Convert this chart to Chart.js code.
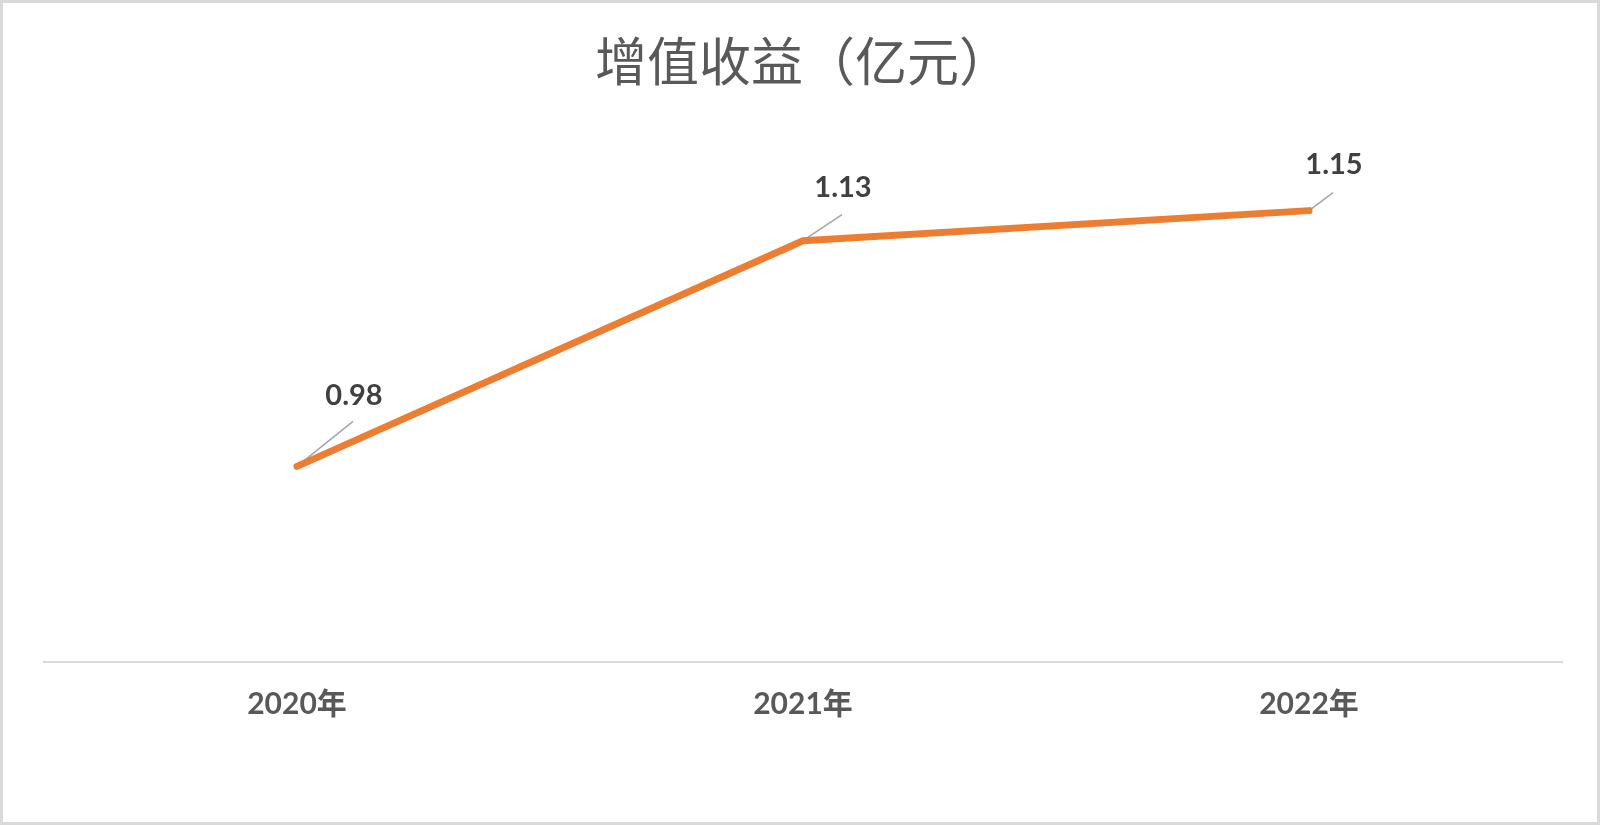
<!DOCTYPE html>
<html>
<head>
<meta charset="utf-8">
<script src="https://cdn.jsdelivr.net/npm/chart.js@4"></script>
<style>
  html, body { margin: 0; padding: 0; background: #fff; }
  canvas { display: block; }
</style>
</head>
<body>
<canvas id="myChart" width="1600" height="825"></canvas>
<script>
const years = ['2020年', '2021年', '2022年'];
const income = [0.98, 1.13, 1.15];
const yMin = 0.85;
const yMax = 1.2;

// label text offset and leader end offset from each point
const labelPos = [[57, -71], [40, -53], [25, -46]];
const leaderEnd = [[56, -45], [39, -26], [24, -18]];

const ctx = document.getElementById('myChart');

const frame = {
  id: 'frame',
  beforeDraw(chart) {
    const c = chart.ctx;
    c.save();
    c.fillStyle = '#fff';
    c.fillRect(0, 0, chart.width, chart.height);
    c.strokeStyle = '#d9d9d9';
    c.lineWidth = 3;
    c.strokeRect(1.5, 1.5, chart.width - 3, chart.height - 3);
    c.restore();
  }
};

const pointLabels = {
  id: 'pointLabels',
  beforeDatasetsDraw(chart) {
    const c = chart.ctx;
    const pts = chart.getDatasetMeta(0).data;
    c.save();
    c.strokeStyle = '#a6a6a6';
    c.lineWidth = 1.5;
    pts.forEach((p, i) => {
      c.beginPath();
      c.moveTo(p.x, p.y);
      c.lineTo(p.x + leaderEnd[i][0], p.y + leaderEnd[i][1]);
      c.stroke();
    });
    c.restore();
  },
  afterDatasetsDraw(chart) {
    const c = chart.ctx;
    const pts = chart.getDatasetMeta(0).data;
    c.save();
    c.fillStyle = '#404040';
    c.font = 'bold 29px Lato, "Liberation Sans", sans-serif';
    c.textAlign = 'center';
    c.textBaseline = 'middle';
    pts.forEach((p, i) => {
      c.fillText(income[i].toFixed(2), p.x + labelPos[i][0], p.y + labelPos[i][1]);
    });
    c.restore();
  }
};

new Chart(ctx, {
  type: 'line',
  data: {
    labels: years,
    datasets: [{
      label: '增值收益',
      data: income,
      borderColor: '#ED7D31',
      borderWidth: 7,
      pointRadius: 0,
      tension: 0,
      borderCapStyle: 'round',
      borderJoinStyle: 'round'
    }]
  },
  options: {
    responsive: false,
    animation: false,
    devicePixelRatio: 1,
    layout: { padding: { left: 44, right: 38, top: 0, bottom: 0 } },
    plugins: {
      legend: { display: false },
      tooltip: { enabled: false },
      title: {
        display: true,
        text: '增值收益（亿元）',
        color: '#595959',
        font: { family: '"Noto Sans CJK SC", sans-serif', size: 52, weight: 'normal', lineHeight: 1.2 },
        padding: { top: 30, bottom: 43 }
      }
    },
    scales: {
      x: {
        offset: true,
        grid: { display: false, drawTicks: false },
        border: { display: true, color: '#d9d9d9', width: 2 },
        ticks: {
          color: '#595959',
          padding: 24,
          font: { family: 'Lato, "Noto Sans CJK SC", sans-serif', size: 30, weight: 'bold', lineHeight: 1.2 }
        },
        afterFit: s => { s.height = 825 - 662; }
      },
      y: {
        display: false,
        min: yMin,
        max: yMax
      }
    }
  },
  plugins: [frame, pointLabels]
});
</script>
</body>
</html>
